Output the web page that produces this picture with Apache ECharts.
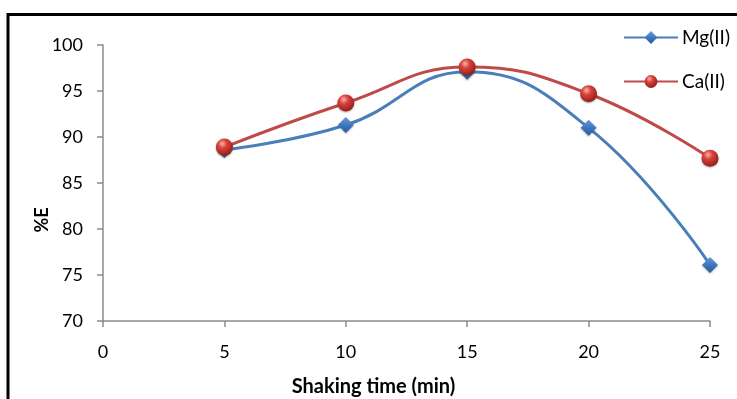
<!DOCTYPE html>
<html>
<head>
<meta charset="utf-8">
<script src="https://cdn.jsdelivr.net/npm/echarts@6/dist/echarts.min.js"></script>
<style>
  html, body { margin: 0; padding: 0; background: #fff; }
  #chart { width: 737px; height: 399px; }
</style>
</head>
<body>
<div id="chart"></div>
<script>
// Shaking time (min) and extraction percentage per ion
const shakingTime = [5, 10, 15, 20, 25];
const mgValues = [88.6, 91.3, 97.1, 91.0, 76.1];
const caValues = [88.9, 93.7, 97.6, 94.7, 87.7];
const xTicks = [0, 5, 10, 15, 20, 25];
const yTicks = [70, 75, 80, 85, 90, 95, 100];

const FONT = 'Lato, "Open Sans", sans-serif';

const chart = echarts.init(document.getElementById('chart'));

const redBall = {
  type: 'radial', x: 0.38, y: 0.3, r: 0.75,
  colorStops: [
    { offset: 0, color: '#f7b3ad' },
    { offset: 0.35, color: '#d9423b' },
    { offset: 1, color: '#8e1b17' }
  ]
};
const blueDiamond = {
  type: 'linear', x: 0, y: 0, x2: 0, y2: 1,
  colorStops: [
    { offset: 0, color: '#6a9ad8' },
    { offset: 0.5, color: '#3f77c0' },
    { offset: 1, color: '#2a5a9a' }
  ]
};

chart.setOption({
  animation: false,
  graphic: [
    {
      // outer frame
      type: 'rect',
      shape: { x: 8, y: 14.5, width: 900, height: 500 },
      style: { fill: 'none', stroke: '#000', lineWidth: 3 },
      silent: true
    },
    {
      // y-axis title
      type: 'text',
      x: 42, y: 220,
      rotation: Math.PI / 2,
      style: {
        text: '%E', fontFamily: FONT, fontSize: 18, fontWeight: 'bold', fill: '#000',
        align: 'center', verticalAlign: 'middle'
      },
      silent: true
    }
  ],
  grid: { left: 103, right: 27, top: 45, bottom: 78, outerBoundsMode: 'none', containLabel: false },
  legend: {
    orient: 'vertical',
    right: 7,
    top: 28,
    padding: 0,
    itemGap: 25,
    itemWidth: 54,
    itemHeight: 16,
    textStyle: { fontFamily: FONT, fontSize: 19, color: '#000', padding: [0, 0, 0, -1] },
    data: ['Mg(II)', 'Ca(II)']
  },
  xAxis: {
    type: 'value',
    min: 0, max: 25, interval: 5,
    name: 'Shaking time (min)',
    nameLocation: 'middle',
    nameGap: 56,
    nameTextStyle: { fontFamily: FONT, fontSize: 20, fontWeight: 'bold', color: '#000', padding: [0, 66, 0, 0] },
    axisLine: { lineStyle: { color: '#8c8c8c', width: 1.5 } },
    axisTick: { show: true, inside: false, length: 6, lineStyle: { color: '#8c8c8c', width: 1.5 } },
    axisLabel: {
      fontFamily: FONT, fontSize: 18, color: '#000', margin: 22,
      formatter: v => xTicks.includes(v) ? String(v) : ''
    },
    splitLine: { show: false }
  },
  yAxis: {
    type: 'value',
    min: 70, max: 100, interval: 5,
    axisLine: { show: true, lineStyle: { color: '#8c8c8c', width: 1.5 } },
    axisTick: { show: true, inside: false, length: 6, lineStyle: { color: '#8c8c8c', width: 1.5 } },
    axisLabel: {
      fontFamily: FONT, fontSize: 18, color: '#000', margin: 20,
      formatter: v => yTicks.includes(v) ? String(v) : ''
    },
    splitLine: { show: false }
  },
  series: [
    {
      name: 'Mg(II)',
      type: 'line',
      smooth: 0.45,
      data: shakingTime.map((t, i) => [t, mgValues[i]]),
      symbol: 'diamond',
      symbolSize: 16,
      showAllSymbol: true,
      lineStyle: { color: '#4a7ebb', width: 3 },
      itemStyle: { color: blueDiamond, borderWidth: 0, shadowColor: 'rgba(0,0,0,0.3)', shadowBlur: 2, shadowOffsetY: 1 },
      z: 2
    },
    {
      name: 'Ca(II)',
      type: 'line',
      smooth: 0.45,
      data: shakingTime.map((t, i) => [t, caValues[i]]),
      symbol: 'circle',
      symbolSize: 17,
      showAllSymbol: true,
      lineStyle: { color: '#be4b48', width: 3 },
      itemStyle: { color: redBall, borderWidth: 0, shadowColor: 'rgba(0,0,0,0.3)', shadowBlur: 2, shadowOffsetY: 1 },
      z: 3
    }
  ]
});
</script>
</body>
</html>
